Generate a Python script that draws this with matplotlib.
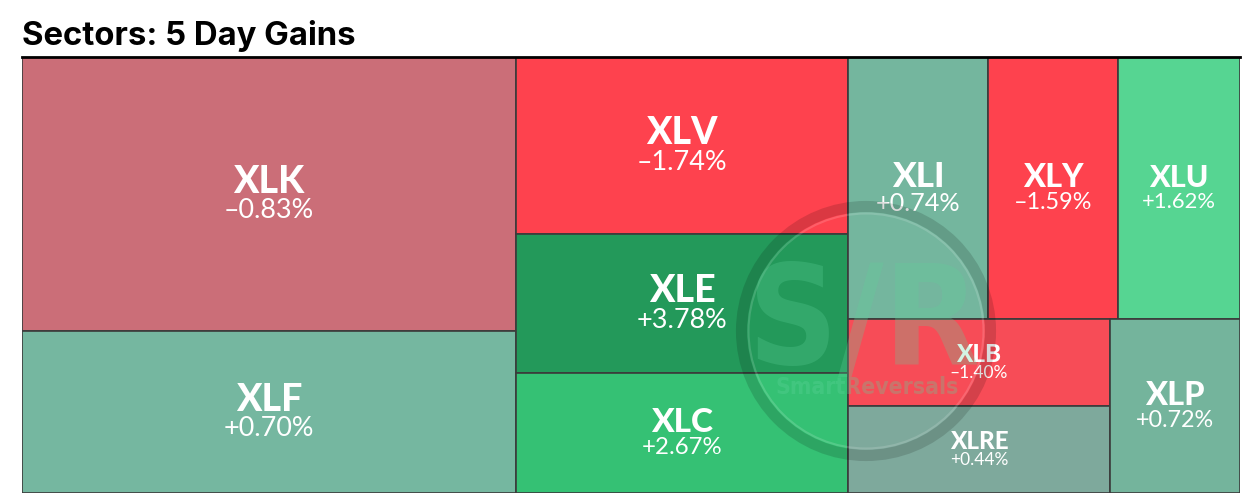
import matplotlib
matplotlib.use("Agg")
import matplotlib.pyplot as plt
from matplotlib.patches import Rectangle, Circle

# sector weights (relative size) and 5 day change in percent
tickers = ["XLK", "XLF", "XLV", "XLE", "XLC", "XLI", "XLY", "XLU", "XLB", "XLRE", "XLP"]
weights = [135.4, 80.0, 58.8, 46.1, 39.8, 36.7, 34.1, 32.0, 22.8, 22.8, 22.6]
changes = [-0.83, 0.70, -1.74, 3.78, 2.67, 0.74, -1.59, 1.62, -1.40, 0.44, 0.72]
tile_colors = ["#CB6E78", "#75B7A0", "#FE424E", "#23995A", "#35C174", "#74B69E",
               "#FE424E", "#56D592", "#F74C57", "#7EA99C", "#74B49C"]

# how the tiles are grouped; splits alternate horizontal / vertical
layout = [["XLK", "XLF"],
          ["XLV", "XLE", "XLC"],
          [["XLI", "XLY", "XLU"], [["XLB", "XLRE"], "XLP"]]]

W, H = 1218, 436
wt = dict(zip(tickers, weights))


def node_weight(node):
    if isinstance(node, str):
        return wt[node]
    return sum(node_weight(n) for n in node)


def place(node, x, y, w, h, horiz, out):
    if isinstance(node, str):
        out[node] = (x, y, w, h)
        return
    total = node_weight(node)
    pos = 0.0
    for child in node:
        frac = node_weight(child) / total
        if horiz:
            place(child, x + pos * w, y, w * frac, h, not horiz, out)
        else:
            place(child, x, y + pos * h, w, h * frac, not horiz, out)
        pos += frac


rects = {}
place(layout, 0, 0, W, H, True, rects)

fig = plt.figure(figsize=(12.46, 4.98), dpi=100)
ax = fig.add_axes([22 / 1246, 5 / 498, W / 1246, H / 498])
ax.set_xlim(0, W)
ax.set_ylim(H, 0)
ax.axis("off")

for t, chg, col in zip(tickers, changes, tile_colors):
    x, y, w, h = rects[t]
    ax.add_patch(Rectangle((x, y), w, h, facecolor=col, edgecolor="#3b3b3b",
                           linewidth=1.2, zorder=1))
    fs = min(27, 0.18 * w, 0.2 * h)
    cx, cy = x + w / 2, y + h / 2
    ax.text(cx, cy - 0.45 * fs, t, ha="center", va="center", color="white",
            fontsize=fs, fontweight="black", family="Lato", zorder=2)
    lab = f"{chg:+.2f}%".replace("-", "\u2013")
    ax.text(cx, cy + 0.62 * fs, lab, ha="center", va="center", color="white",
            fontsize=fs * 0.72, family="Lato", zorder=2)

ax.plot([0, W], [0, 0], color="black", linewidth=2, zorder=3, clip_on=False)

# watermark
wx, wy = 844, 274
ax.add_patch(Circle((wx, wy), 124.5, fill=False, edgecolor="black",
                    linewidth=8, alpha=0.14, zorder=4))
ax.add_patch(Circle((wx, wy), 117.5, fill=False, edgecolor="white",
                    linewidth=1.5, alpha=0.15, zorder=4))
ax.text(wx - 2, wy - 6, "S/R", ha="center", va="center", fontsize=100,
        fontweight="bold", fontstretch="condensed",
        family=["Liberation Sans Narrow", "DejaVu Sans"],
        color="#5fd39a", alpha=0.27, zorder=4)
ax.text(wx + 1, wy + 56, "SmartReversals", ha="center", va="center", fontsize=16.5,
        fontweight="bold", fontstretch="condensed",
        family=["Liberation Sans Narrow", "DejaVu Sans"],
        color="#5fd39a", alpha=0.3, zorder=4)

fig.text(22 / 1246, 1 - 45 / 498, "Sectors: 5 Day Gains", ha="left", va="baseline",
         fontsize=23.7, fontweight="bold", family=["Inter", "DejaVu Sans"])

fig.savefig("out.png", dpi=100)
